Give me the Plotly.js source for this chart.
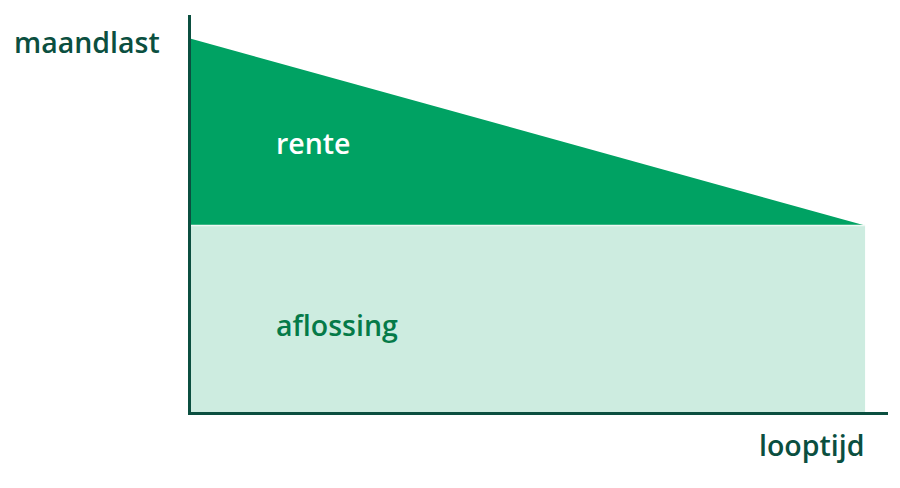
<!DOCTYPE html>
<html>
<head>
<meta charset="utf-8">
<script src="https://cdn.plot.ly/plotly-3.0.1.min.js"></script>
<style>
  body { margin: 0; background: #fff; }
  #chart { width: 900px; height: 488px; }
</style>
</head>
<body>
<div id="chart"></div>
<script>
// looptijd (start, eind) en opbouw van de maandlast
let looptijd = [0, 100]
let aflossing = [47, 47]
let rente = [47, 0]

let darkGreen = '#00a263'
let lightGreen = '#cdece0'
let axisColor = '#0b4f40'

let traceAflossing = {
    x: looptijd, y: aflossing, stackgroup: 'last', mode: 'lines',
    line: { color: '#eef8f3', width: 1.5 }, fillcolor: lightGreen,
    hoverinfo: 'skip', name: 'aflossing'
}
let traceRente = {
    x: looptijd, y: rente, stackgroup: 'last', mode: 'lines',
    line: { width: 0 }, fillcolor: darkGreen,
    hoverinfo: 'skip', name: 'rente'
}

let font = { family: 'Open Sans, sans-serif', size: 28.5, color: axisColor, weight: 600 }

let layout = {
    width: 900,
    height: 488,
    margin: { l: 191, r: 12, t: 15, b: 76 },
    showlegend: false,
    paper_bgcolor: '#fff',
    plot_bgcolor: '#fff',
    xaxis: {
        range: [0, 103.4], showline: true, linecolor: axisColor, linewidth: 3,
        showgrid: false, zeroline: false, showticklabels: false, ticks: '', fixedrange: true
    },
    yaxis: {
        range: [0, 100], showline: true, linecolor: axisColor, linewidth: 3,
        showgrid: false, zeroline: false, showticklabels: false, ticks: '', fixedrange: true
    },
    annotations: [
        { text: 'maandlast', xref: 'paper', yref: 'paper', x: -0.257, y: 0.932,
          xanchor: 'left', yanchor: 'middle', showarrow: false, font: font },
        { text: 'looptijd', xref: 'paper', yref: 'paper', x: 0.969, y: -0.083,
          xanchor: 'right', yanchor: 'middle', showarrow: false, font: font },
        { text: 'rente', xref: 'x', yref: 'y', x: 12.3, y: 67.8,
          xanchor: 'left', yanchor: 'middle', showarrow: false,
          font: Object.assign({}, font, { color: '#ffffff' }) },
        { text: 'aflossing', xref: 'x', yref: 'y', x: 12.3, y: 22,
          xanchor: 'left', yanchor: 'middle', showarrow: false,
          font: Object.assign({}, font, { color: '#057a48' }) }
    ]
}

Plotly.newPlot('chart', [traceAflossing, traceRente], layout, { staticPlot: true })
</script>
</body>
</html>
